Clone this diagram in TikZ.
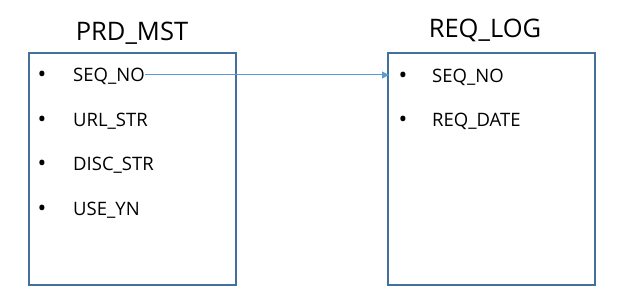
\documentclass[tikz,border=0pt]{standalone}
\usepackage{fontspec}
\setmainfont{Open Sans}
\usetikzlibrary{arrows.meta}
\definecolor{boxline}{HTML}{41719C}
\definecolor{arrowc}{HTML}{5B9BD5}
\begin{document}
\begin{tikzpicture}[x=1pt,y=-1pt,
  tbox/.style={draw=boxline,line width=1.2pt},
  ttl/.style={font=\fontsize{25.5}{28}\selectfont,inner sep=0pt},
  item/.style={font=\fontsize{18.5}{20}\selectfont,inner sep=0pt,anchor=west},
  bul/.style={font=\fontsize{18}{20}\selectfont\bfseries,inner sep=0pt}]
\useasboundingbox (0,0) rectangle (621,302);
\draw[tbox] (29,53) rectangle (236,285);
\draw[tbox] (388,53) rectangle (595,285);
\node[ttl] (t1) at (132,33) {PRD\_MST};
\node[ttl] (t2) at (485,30) {REQ\_LOG};
\node[bul] (b1) at (42,76) {•};
\node[bul] (b2) at (42,121) {•};
\node[bul] (b3) at (42,165) {•};
\node[bul] (b4) at (42,210) {•};
\node[item] (a1) at (73,76) {SEQ\_NO};
\node[item] (a2) at (73,121) {URL\_STR};
\node[item] (a3) at (73,165) {DISC\_STR};
\node[item] (a4) at (73,210) {USE\_YN};
\node[bul] (c1) at (403,77) {•};
\node[bul] (c2) at (403,121) {•};
\node[item] (d1) at (432,77) {SEQ\_NO};
\node[item] (d2) at (432,121) {REQ\_DATE};
\coordinate (s) at (145,75);
\coordinate (e) at (389,75);
\draw[arrowc,line width=1pt,-{Triangle[length=7pt,width=7pt]}] (s) -- (e);
\end{tikzpicture}
\end{document}
